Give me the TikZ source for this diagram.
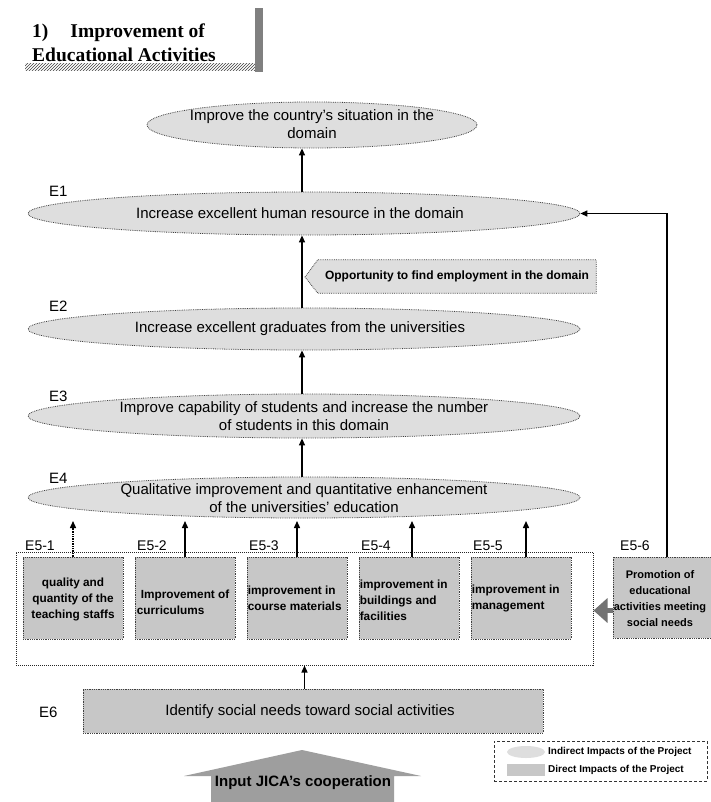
\documentclass[tikz,border=0pt]{standalone}
\usepackage{fontspec}
\setmainfont{Liberation Sans}
\newfontfamily\titlefont{Liberation Serif}
\usetikzlibrary{shapes.geometric,arrows.meta,patterns}
\begin{document}
\begin{tikzpicture}[x=1pt,y=-1pt,
  ind/.style={ellipse, draw=black!75, densely dotted, line width=0.8pt, fill=black!13, inner sep=0pt},
  dirbox/.style={rectangle, draw=black!75, densely dotted, line width=0.8pt, fill=black!22, inner sep=0pt},
  mtxt/.style={font=\fontsize{15}{18}\selectfont, align=center, inner sep=0pt},
  btxt/.style={font=\bfseries\fontsize{11.8}{16}\selectfont, inner sep=0pt},
  elab/.style={font=\fontsize{15}{17}\selectfont, anchor=west, inner sep=0pt},
  blab/.style={font=\fontsize{14}{16}\selectfont, anchor=west, inner sep=0pt},
  legtxt/.style={font=\bfseries\fontsize{10}{12}\selectfont, anchor=west, inner sep=0pt},
  arr/.style={-{Triangle[length=7pt,width=6pt]}, line width=1.4pt},
]
\fill[white] (0,0) rectangle (710,802);
\useasboundingbox (0,0) rectangle (710,802);

% title
\node[anchor=west, font=\titlefont\bfseries\fontsize{19.5}{22}\selectfont, inner sep=0pt] (t1) at (32,33) {1)\hspace{22pt}Improvement of};
\node[anchor=west, font=\titlefont\bfseries\fontsize{19.5}{22}\selectfont, inner sep=0pt] (t2) at (32,55) {Educational Activities};
\fill[pattern=north east lines, pattern color=black!75] (25,64) rectangle (257,71);
\fill[black!50] (255,8) rectangle (263,72);

% ellipses
\node[ind, minimum width=330pt, minimum height=46pt] (top) at (312,125) {};
\node[mtxt] (topt) at (312,124) {Improve the country's situation in the\\domain};

\node[ind, minimum width=552pt, minimum height=43pt] (e1) at (304,213.5) {};
\node[mtxt] (e1t) at (300,213.5) {Increase excellent human resource in the domain};

\node[ind, minimum width=552pt, minimum height=42pt] (e2) at (304,329) {};
\node[mtxt] (e2t) at (300,329) {Increase excellent graduates from the universities};

\node[ind, minimum width=552pt, minimum height=44pt] (e3) at (304,416) {};
\node[mtxt] (e3t) at (304,416) {Improve capability of students and increase the number\\of students in this domain};

\node[ind, minimum width=552pt, minimum height=41pt] (e4) at (304,497.5) {};
\node[mtxt] (e4t) at (304,498) {Qualitative improvement and quantitative enhancement\\of the universities' education};

% labels
\node[elab] (l1) at (49,191) {E1};
\node[elab] (l2) at (49,306) {E2};
\node[elab] (l3) at (49,396) {E3};
\node[elab] (l4) at (49,478) {E4};
\node[elab] (l6) at (39,712) {E6};

% opportunity
\node[minimum width=278pt, minimum height=33pt, inner sep=0pt] (opp) at (457,276.5) {};
\coordinate (opptip) at (305,277);
\filldraw[fill=black!13, draw=black!75, densely dotted, line width=0.8pt] (opptip) -- (opp.north west) -- (opp.north east) -- (opp.south east) -- (opp.south west) -- cycle;
\node[font=\bfseries\fontsize{12}{14}\selectfont, inner sep=0pt] (oppt) at (457,276) {Opportunity to find employment in the domain};

% container
\node[draw=black!85, densely dotted, line width=1pt, minimum width=577pt, minimum height=113pt, inner sep=0pt] (cont) at (304.5,608.5) {};

% boxes
\node[dirbox, minimum width=100pt, minimum height=82pt] (b1) at (73,598) {};
\node[dirbox, minimum width=100pt, minimum height=82pt] (b2) at (185,598) {};
\node[dirbox, minimum width=100pt, minimum height=82pt] (b3) at (297,598) {};
\node[dirbox, minimum width=100pt, minimum height=82pt] (b4) at (409,598) {};
\node[dirbox, minimum width=100pt, minimum height=82pt] (b5) at (521,598) {};
\node[dirbox, minimum width=100pt, minimum height=81pt] (b6) at (663,597.5) {};

\node[btxt, align=center] (b1t) at (73,599) {quality and\\quantity of the\\teaching staffs};
\node[btxt, align=left, anchor=west] (b2t) at ([xshift=2pt,yshift=-4pt]b2.west) {\hspace{4pt}Improvement of\\curriculums};
\node[btxt, align=left, anchor=west] (b3t) at ([xshift=1pt]b3.west) {improvement in\\course materials};
\node[btxt, align=left, anchor=west] (b4t) at ([xshift=1pt,yshift=-2pt]b4.west) {improvement in\\buildings and\\facilities};
\node[btxt, align=left, anchor=west] (b5t) at ([xshift=1pt]b5.west) {improvement in\\management};
\node[btxt, font=\bfseries\fontsize{11}{16}\selectfont, align=center] (b6t) at (660,599) {Promotion of\\educational\\activities meeting\\social needs};

\node[blab] (bl1) at (25,546) {E5-1};
\node[blab] (bl2) at (137,546) {E5-2};
\node[blab] (bl3) at (249,546) {E5-3};
\node[blab] (bl4) at (361,546) {E5-4};
\node[blab] (bl5) at (473,546) {E5-5};
\node[blab] (bl6) at (620,546) {E5-6};

% E6
\node[dirbox, minimum width=460pt, minimum height=44pt] (e6) at (313,711) {};
\node[mtxt] (e6t) at (310,712) {Identify social needs toward social activities};

% arrows
\draw[arr] (e1.north -| 302,0) -- (top.south -| 302,0);
\draw[arr] (e2.north -| 302,0) -- (e1.south -| 302,0);
\draw[arr] (e3.north -| 302,0) -- (e2.south -| 302,0);
\draw[arr] (e4.north -| 302,0) -- (e3.south -| 302,0);
\coordinate (e4b) at (0,521);
\draw[arr, densely dotted] (b1.north) -- (b1.north |- e4b);
\draw[arr] (b2.north) -- (b2.north |- e4b);
\draw[arr] (b3.north) -- (b3.north |- e4b);
\draw[arr] ([xshift=3pt]b4.north) -- ([xshift=3pt]b4.north |- e4b);
\draw[arr] ([xshift=5pt]b5.north) -- ([xshift=5pt]b5.north |- e4b);
\draw[arr] ([xshift=4pt]b6.north) |- (e1.east);
\draw[arr] (cont.south |- e6.north) -- (cont.south);
\draw[black!55, line width=5pt, -{Triangle[length=14pt,width=24pt]}] ([yshift=-13pt]b6.west) -- ([yshift=-13pt]b6.west -| cont.east);

% legend
\node[draw=black!80, densely dashed, line width=0.8pt, minimum width=213pt, minimum height=40pt, inner sep=0pt] (leg) at (600.5,761) {};
\node[ind, draw=none, minimum width=38pt, minimum height=12pt] (sw1) at (526,752) {};
\node[dirbox, draw=none, minimum width=38pt, minimum height=12pt] (sw2) at (526,770) {};
\node[legtxt] (lt1) at (548,752) {Indirect Impacts of the Project};
\node[legtxt] (lt2) at (548,770) {Direct Impacts of the Project};

% input arrow
\fill[black!38] (302,750) -- (421,776) -- (394,776) -- (394,803) -- (211,803) -- (211,776) -- (184,776) -- cycle;
\node[font=\bfseries\fontsize{15}{17}\selectfont, inner sep=0pt] (jica) at (303,783) {Input JICA's cooperation};
\end{tikzpicture}
\end{document}
